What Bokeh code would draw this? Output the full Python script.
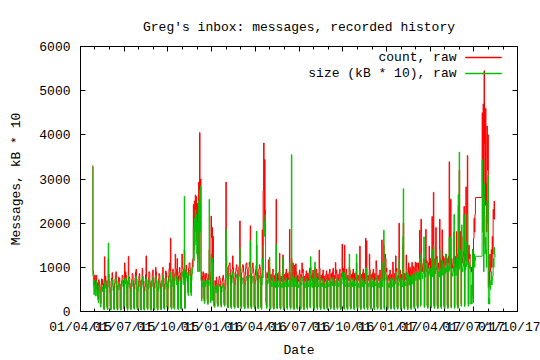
import pandas as pd
from bokeh.plotting import figure
from bokeh.models import (FixedTicker, DatetimeTickFormatter, DatetimeAxis, LinearAxis,
                          Range1d, Label, BoxAnnotation, CustomJSTickFormatter, ColumnDataSource)
from bokeh.embed import file_html
from bokeh.resources import INLINE

title_text = "Greg's inbox: messages, recorded history"
x_label = "Date"
y_label = "Messages, kB * 10"
series_names = ["count, raw", "size (kB * 10), raw"]
series_colors = ["#ff0000", "#00c000"]
x_start = "2015-04-01"
x_end = "2017-10-01"
y_ticks = [0, 1000, 2000, 3000, 4000, 5000, 6000]
seg1_start = "2015-04-26"
seg2_start = "2017-07-19"

count_seg1 = [
    3300, 920, 850, 600, 780, 820, 450,
    700, 820, 500, 650, 380, 300, 720,
    680, 560, 250, 180, 620, 740, 600,
    720, 640, 90, 60, 1240, 650, 800,
    700, 560, 120, 60, 700, 1200, 850,
    680, 540, 120, 50, 700, 760, 880,
    720, 560, 100, 60, 640, 740, 820,
    900, 700, 90, 50, 580, 780, 680,
    760, 620, 80, 40, 600, 700, 820,
    800, 700, 90, 60, 1100, 760, 900,
    820, 680, 100, 50, 700, 1250, 760,
    780, 640, 90, 60, 560, 720, 860,
    840, 700, 110, 70, 620, 760, 900,
    960, 740, 100, 60, 560, 680, 800,
    860, 700, 90, 50, 600, 720, 980,
    800, 680, 80, 50, 560, 700, 840,
    1260, 720, 100, 60, 620, 760, 900,
    880, 660, 80, 40, 580, 700, 820,
    940, 720, 100, 60, 640, 780, 1000,
    900, 700, 90, 50, 560, 740, 860,
    820, 640, 80, 60, 600, 700, 880,
    1000, 760, 100, 70, 620, 760, 920,
    880, 700, 110, 60, 640, 800, 960,
    1100, 820, 1660, 120, 80, 700, 900,
    960, 760, 120, 70, 860, 1300, 980,
    940, 740, 1200, 110, 60, 800, 900,
    1000, 880, 120, 70, 760, 1300, 1000,
    960, 800, 720, 1400, 90, 820, 940,
    1050, 900, 800, 520, 420, 980, 1100,
    1100, 960, 520, 440, 820, 1000, 1150,
    1200, 2420, 1400, 2500, 1800, 2640, 2200,
    2600, 1600, 2450, 1200, 2200, 2930, 1100,
    4050, 2100, 3000, 900, 300, 800, 700,
    900, 780, 300, 220, 860, 700, 820,
    860, 760, 280, 200, 840, 720, 1400,
    900, 780, 250, 2160, 1680, 1900, 300,
    1700, 300, 150, 120, 700, 600, 500,
    780, 640, 180, 140, 600, 720, 800,
    760, 700, 200, 130, 560, 680, 760,
    820, 720, 190, 150, 640, 760, 2930,
    1260, 1000, 150, 100, 900, 1040, 1100,
    1100, 950, 140, 90, 820, 960, 1260,
    1000, 880, 130, 90, 760, 900, 980,
    1060, 940, 150, 100, 840, 1000, 1040,
    2050, 960, 140, 90, 880, 1000, 1060,
    1040, 900, 130, 80, 820, 980, 1080,
    1100, 960, 150, 100, 900, 1000, 1120,
    1040, 1940, 140, 90, 860, 1000, 1100,
    980, 880, 130, 80, 820, 940, 1040,
    1500, 900, 140, 90, 840, 960, 1060,
    1000, 860, 120, 80, 800, 1850, 940,
    2740, 3815, 1900, 3440, 2300, 900, 200,
    100, 860, 760, 900, 1170, 800, 1000,
    120, 80, 840, 760, 700, 880, 960,
    110, 70, 820, 740, 680, 860, 2540,
    130, 80, 860, 760, 700, 900, 1320,
    120, 70, 800, 720, 680, 860, 1280,
    110, 70, 840, 740, 700, 880, 960,
    120, 80, 860, 760, 720, 900, 1860,
    130, 80, 880, 1200, 700, 860, 1100,
    100, 70, 1050, 760, 700, 1080, 900,
    110, 80, 820, 720, 680, 860, 940,
    120, 70, 840, 760, 1100, 880, 960,
    110, 60, 800, 720, 680, 840, 920,
    120, 80, 860, 760, 700, 880, 980,
    110, 1000, 820, 740, 680, 860, 940,
    120, 70, 840, 1000, 700, 880, 960,
    130, 80, 860, 760, 720, 1390, 980,
    110, 70, 820, 740, 700, 860, 940,
    120, 80, 800, 720, 680, 840, 920,
    110, 70, 840, 760, 700, 880, 960,
    120, 80, 860, 780, 720, 900, 980,
    110, 70, 820, 740, 1110, 860, 940,
    120, 80, 840, 760, 700, 880, 960,
    110, 70, 860, 780, 1525, 900, 980,
    120, 80, 1500, 760, 720, 880, 960,
    110, 70, 820, 740, 700, 1000, 940,
    120, 80, 840, 760, 720, 880, 960,
    110, 70, 860, 780, 720, 900, 1100,
    120, 80, 820, 740, 700, 860, 1480,
    110, 70, 840, 760, 700, 880, 960,
    120, 80, 860, 780, 1660, 900, 1600,
    110, 70, 820, 740, 700, 1300, 940,
    120, 80, 840, 760, 720, 880, 960,
    110, 70, 860, 780, 720, 1150, 980,
    120, 80, 820, 740, 700, 860, 940,
    110, 70, 840, 1620, 700, 880, 960,
    1500, 80, 860, 1300, 1200, 900, 980,
    120, 70, 820, 740, 700, 860, 940,
    110, 80, 840, 760, 720, 1120, 960,
    120, 70, 860, 780, 1260, 900, 980,
    110, 80, 820, 740, 2000, 860, 940,
    120, 70, 840, 760, 720, 1500, 2000,
    110, 80, 860, 780, 720, 1280, 980,
    120, 70, 880, 1100, 760, 920, 1000,
    110, 80, 900, 1110, 780, 940, 1020,
    130, 90, 1000, 1120, 860, 1000, 1100,
    140, 100, 1100, 960, 880, 1840, 1150,
    150, 2090, 1100, 1000, 900, 1060, 1200,
    1200, 120, 1050, 950, 1860, 1100, 1150,
    140, 100, 1100, 980, 1480, 1060, 1200,
    150, 110, 1150, 2150, 950, 1100, 2700,
    160, 100, 1200, 1050, 1900, 1150, 1250,
    140, 90, 1100, 1000, 950, 2090, 1200,
    150, 100, 1150, 1850, 1000, 1100, 1250,
    140, 90, 1200, 1050, 1300, 1100, 1200,
    150, 100, 1250, 1100, 3390, 1150, 1300,
    2540, 110, 1200, 1050, 980, 1100, 1250,
    1800, 100, 1250, 1100, 1000, 1810, 1300,
    150, 100, 2400, 1150, 3200, 1200, 1300,
    1810, 160, 1700, 1200, 1100, 1250, 1350,
    2380, 150, 1300, 1150, 2820, 1250, 1400,
    3530, 1300, 160, 1500, 1200, 1300, 1000,
    1000, 900, 1000, 500, 1410, 300, 1650,
    2110, 1800, 2200, 2580,
]

size_seg1 = [
    3270, 800, 560, 380, 700, 610, 350,
    520, 700, 360, 480, 260, 200, 600,
    520, 430, 150, 100, 480, 600, 450,
    560, 500, 50, 40, 700, 520, 650,
    560, 450, 90, 40, 560, 1550, 700,
    540, 430, 80, 30, 560, 600, 720,
    600, 470, 70, 40, 520, 640, 680,
    760, 560, 60, 30, 480, 620, 560,
    640, 500, 60, 30, 480, 560, 700,
    660, 560, 70, 40, 760, 620, 760,
    700, 520, 80, 30, 560, 820, 620,
    640, 520, 60, 40, 460, 580, 700,
    700, 560, 80, 50, 500, 620, 740,
    800, 600, 70, 40, 460, 560, 660,
    720, 560, 60, 30, 500, 600, 800,
    660, 540, 60, 30, 460, 560, 700,
    760, 580, 70, 40, 500, 600, 720,
    720, 540, 60, 30, 480, 560, 680,
    780, 580, 70, 40, 520, 640, 820,
    740, 560, 60, 30, 460, 600, 700,
    680, 520, 60, 40, 480, 560, 720,
    820, 600, 80, 50, 500, 620, 760,
    720, 560, 80, 40, 520, 640, 780,
    860, 680, 900, 90, 50, 560, 740,
    780, 600, 90, 50, 700, 900, 800,
    780, 600, 820, 80, 40, 660, 740,
    820, 700, 90, 50, 620, 900, 820,
    800, 640, 600, 2610, 60, 680, 780,
    900, 760, 680, 450, 360, 820, 920,
    940, 800, 430, 360, 700, 860, 1000,
    1000, 1900, 1150, 2100, 1500, 2300, 1900,
    2200, 1300, 2000, 900, 1800, 2500, 900,
    2750, 1800, 2840, 700, 240, 650, 560,
    720, 620, 250, 180, 700, 560, 660,
    700, 620, 230, 160, 680, 580, 2540,
    720, 620, 200, 1300, 1100, 1200, 250,
    1100, 250, 120, 90, 560, 480, 420,
    600, 500, 150, 110, 460, 560, 620,
    580, 540, 160, 100, 440, 540, 600,
    640, 560, 150, 120, 500, 600, 1860,
    900, 760, 120, 80, 680, 800, 860,
    860, 720, 110, 70, 640, 760, 900,
    800, 680, 100, 70, 600, 720, 780,
    840, 760, 120, 80, 660, 800, 800,
    1430, 700, 110, 70, 620, 720, 760,
    760, 660, 100, 60, 600, 700, 780,
    800, 700, 120, 70, 700, 760, 820,
    800, 1600, 110, 60, 640, 740, 800,
    760, 680, 100, 60, 620, 720, 800,
    1820, 700, 110, 60, 640, 740, 820,
    780, 660, 90, 50, 600, 1200, 760,
    1500, 1900, 2050, 1700, 2200, 760, 150,
    70, 700, 620, 720, 900, 640, 1230,
    90, 50, 680, 600, 560, 700, 780,
    80, 50, 660, 580, 540, 680, 1525,
    90, 60, 680, 600, 560, 720, 900,
    80, 50, 640, 580, 540, 700, 1230,
    80, 40, 660, 580, 560, 700, 760,
    90, 50, 680, 600, 560, 720, 1100,
    90, 50, 700, 3550, 560, 680, 800,
    70, 40, 760, 600, 560, 820, 720,
    80, 50, 640, 580, 540, 680, 760,
    90, 40, 660, 600, 780, 700, 760,
    80, 40, 640, 560, 540, 660, 740,
    90, 50, 680, 600, 560, 700, 780,
    80, 1240, 660, 580, 540, 680, 760,
    90, 40, 660, 1120, 560, 700, 760,
    90, 50, 680, 600, 560, 900, 780,
    80, 40, 640, 580, 560, 680, 740,
    90, 50, 620, 560, 540, 660, 720,
    80, 40, 660, 600, 560, 700, 760,
    90, 50, 680, 620, 580, 720, 780,
    80, 40, 640, 580, 700, 680, 740,
    90, 50, 660, 600, 560, 700, 760,
    80, 40, 680, 620, 900, 720, 780,
    90, 50, 880, 600, 560, 700, 760,
    80, 40, 640, 580, 560, 1300, 740,
    90, 50, 660, 600, 560, 700, 760,
    80, 40, 680, 620, 580, 720, 1300,
    90, 50, 640, 580, 540, 680, 950,
    80, 40, 660, 600, 560, 700, 760,
    90, 50, 680, 620, 1000, 720, 980,
    80, 40, 640, 580, 560, 900, 740,
    90, 50, 660, 600, 560, 700, 760,
    80, 40, 680, 620, 580, 800, 780,
    90, 50, 640, 580, 540, 680, 740,
    80, 40, 660, 1100, 560, 700, 760,
    1840, 50, 680, 900, 850, 720, 780,
    90, 40, 640, 580, 540, 680, 740,
    80, 50, 660, 600, 560, 760, 760,
    90, 40, 680, 620, 900, 720, 780,
    80, 50, 640, 580, 1200, 680, 740,
    90, 40, 660, 600, 560, 1690, 2780,
    80, 50, 680, 620, 580, 900, 780,
    90, 40, 700, 820, 600, 740, 800,
    80, 50, 720, 840, 620, 760, 820,
    100, 60, 820, 900, 700, 820, 880,
    110, 70, 880, 780, 720, 1200, 920,
    120, 1300, 900, 820, 740, 860, 1000,
    1690, 90, 860, 780, 1100, 900, 940,
    110, 70, 900, 800, 1000, 860, 980,
    120, 80, 940, 1400, 780, 900, 1500,
    120, 70, 1000, 860, 1200, 940, 1020,
    110, 60, 900, 820, 780, 1400, 980,
    120, 70, 940, 1150, 820, 900, 1020,
    110, 60, 980, 860, 1300, 900, 980,
    120, 70, 1020, 900, 1690, 940, 1060,
    1690, 80, 980, 860, 800, 900, 1020,
    2200, 70, 1020, 900, 820, 1200, 1060,
    120, 70, 2650, 940, 3610, 980, 1060,
    1400, 120, 1960, 980, 900, 1020, 1100,
    2200, 110, 1060, 940, 1580, 1020, 1140,
    2200, 1060, 120, 1100, 980, 1040, 170,
    170, 600, 170, 350, 1400, 200, 1250,
    1300, 1000, 1150, 1250,
]

count_seg2 = [4500, 3000, 4700, 1500, 5450, 3800, 2400, 4600, 2900, 1800, 4200, 3200, 4000, 550,
              900, 600, 1300, 900, 1110, 1400, 1000, 1700, 1300, 2310, 2100, 2500, 2090, 2100]
size_seg2 = [3440, 1800, 2600, 900, 2900, 2180, 1300, 1680, 1400, 1000, 2500, 2000, 3085, 170,
             300, 170, 700, 500, 660, 900, 600, 700, 800, 1200, 1000, 1450, 1300, 1225]


def series_source(seg1, seg2):
    d1 = pd.date_range(seg1_start, periods=len(seg1), freq="D")
    d2 = pd.date_range(seg2_start, periods=len(seg2), freq="D")
    return ColumnDataSource(dict(date=list(d1) + list(d2), value=list(seg1) + list(seg2)))


FONT = "Liberation Mono"
FS = "13px"

quarters = pd.date_range(x_start, x_end, freq="QS")
months = pd.date_range(x_start, x_end, freq="MS")
quarter_ms = [t.value // 10**6 for t in quarters]
month_ms = [t.value // 10**6 for t in months]

p = figure(width=540, height=360, x_axis_type="datetime",
           x_range=Range1d(pd.Timestamp(x_start), pd.Timestamp(x_end)),
           y_range=Range1d(0, 6000),
           output_backend="svg", toolbar_location=None,
           min_border_left=80, min_border_right=23, min_border_top=46, min_border_bottom=47)

p.background_fill_color = "white"
p.border_fill_color = "white"
p.grid.visible = False
p.outline_line_color = "black"
p.outline_line_width = 1

p.title.text = title_text
p.title.align = "center"
p.title.text_font = FONT
p.title.text_font_size = FS
p.title.text_font_style = "normal"
p.title.text_color = "black"
p.title.standoff = 24

x_ticker = FixedTicker(ticks=quarter_ms, minor_ticks=month_ms)
y_ticker = FixedTicker(ticks=y_ticks, minor_ticks=[])
fmt = "%d/%m/%y"
x_fmt = DatetimeTickFormatter(milliseconds=fmt, seconds=fmt, minsec=fmt, minutes=fmt, hourmin=fmt,
                              hours=fmt, days=fmt, months=fmt, years=fmt)


def style_axis(ax, minor):
    ax.axis_line_color = "black"
    ax.major_tick_line_color = "black"
    ax.minor_tick_line_color = "black"
    ax.major_tick_in = 5
    ax.major_tick_out = 0
    ax.minor_tick_in = 3 if minor else 0
    ax.minor_tick_out = 0
    ax.major_label_text_font = FONT
    ax.major_label_text_font_size = FS
    ax.major_label_text_color = "black"
    ax.axis_label_text_font = FONT
    ax.axis_label_text_font_size = FS
    ax.axis_label_text_font_style = "normal"
    ax.axis_label_text_color = "black"


xa = p.xaxis[0]
xa.ticker = x_ticker
xa.formatter = x_fmt
xa.axis_label = x_label
style_axis(xa, True)
xa.major_label_standoff = 8
xa.axis_label_standoff = 5

ya = p.yaxis[0]
ya.ticker = y_ticker
ya.axis_label = y_label
style_axis(ya, False)
ya.major_label_standoff = 10
ya.axis_label_standoff = 12

blank = CustomJSTickFormatter(code="return ''")
top = DatetimeAxis(ticker=x_ticker, formatter=blank)
style_axis(top, True)
top.major_label_text_font_size = "0px"
top.major_label_standoff = 0
p.add_layout(top, "above")

right = LinearAxis(ticker=y_ticker, formatter=blank)
style_axis(right, False)
right.major_label_text_font_size = "0px"
right.major_label_standoff = 0
p.add_layout(right, "right")

src_count = series_source(count_seg1, count_seg2)
src_size = series_source(size_seg1, size_seg2)
p.step("date", "value", source=src_count, mode="after", line_color=series_colors[0], line_width=1)
p.step("date", "value", source=src_size, mode="after", line_color=series_colors[1], line_width=1)

# gnuplot-style key: text right-aligned, sample line to its right
for i, (name, col) in enumerate(zip(series_names, series_colors)):
    sy = 254 - 16 * i
    p.add_layout(Label(x=376, y=sy, x_units="screen", y_units="screen", text=name,
                       text_align="right", text_baseline="middle", text_font=FONT,
                       text_font_size=FS, text_color="black"))
    p.add_layout(BoxAnnotation(left=385, right=421, bottom=sy - 0.5, top=sy + 0.5,
                               left_units="screen", right_units="screen",
                               bottom_units="screen", top_units="screen",
                               fill_color=col, fill_alpha=1, line_color=col, line_alpha=1,
                               line_width=0.5))

open("out.html", "w").write(file_html(p, INLINE))
